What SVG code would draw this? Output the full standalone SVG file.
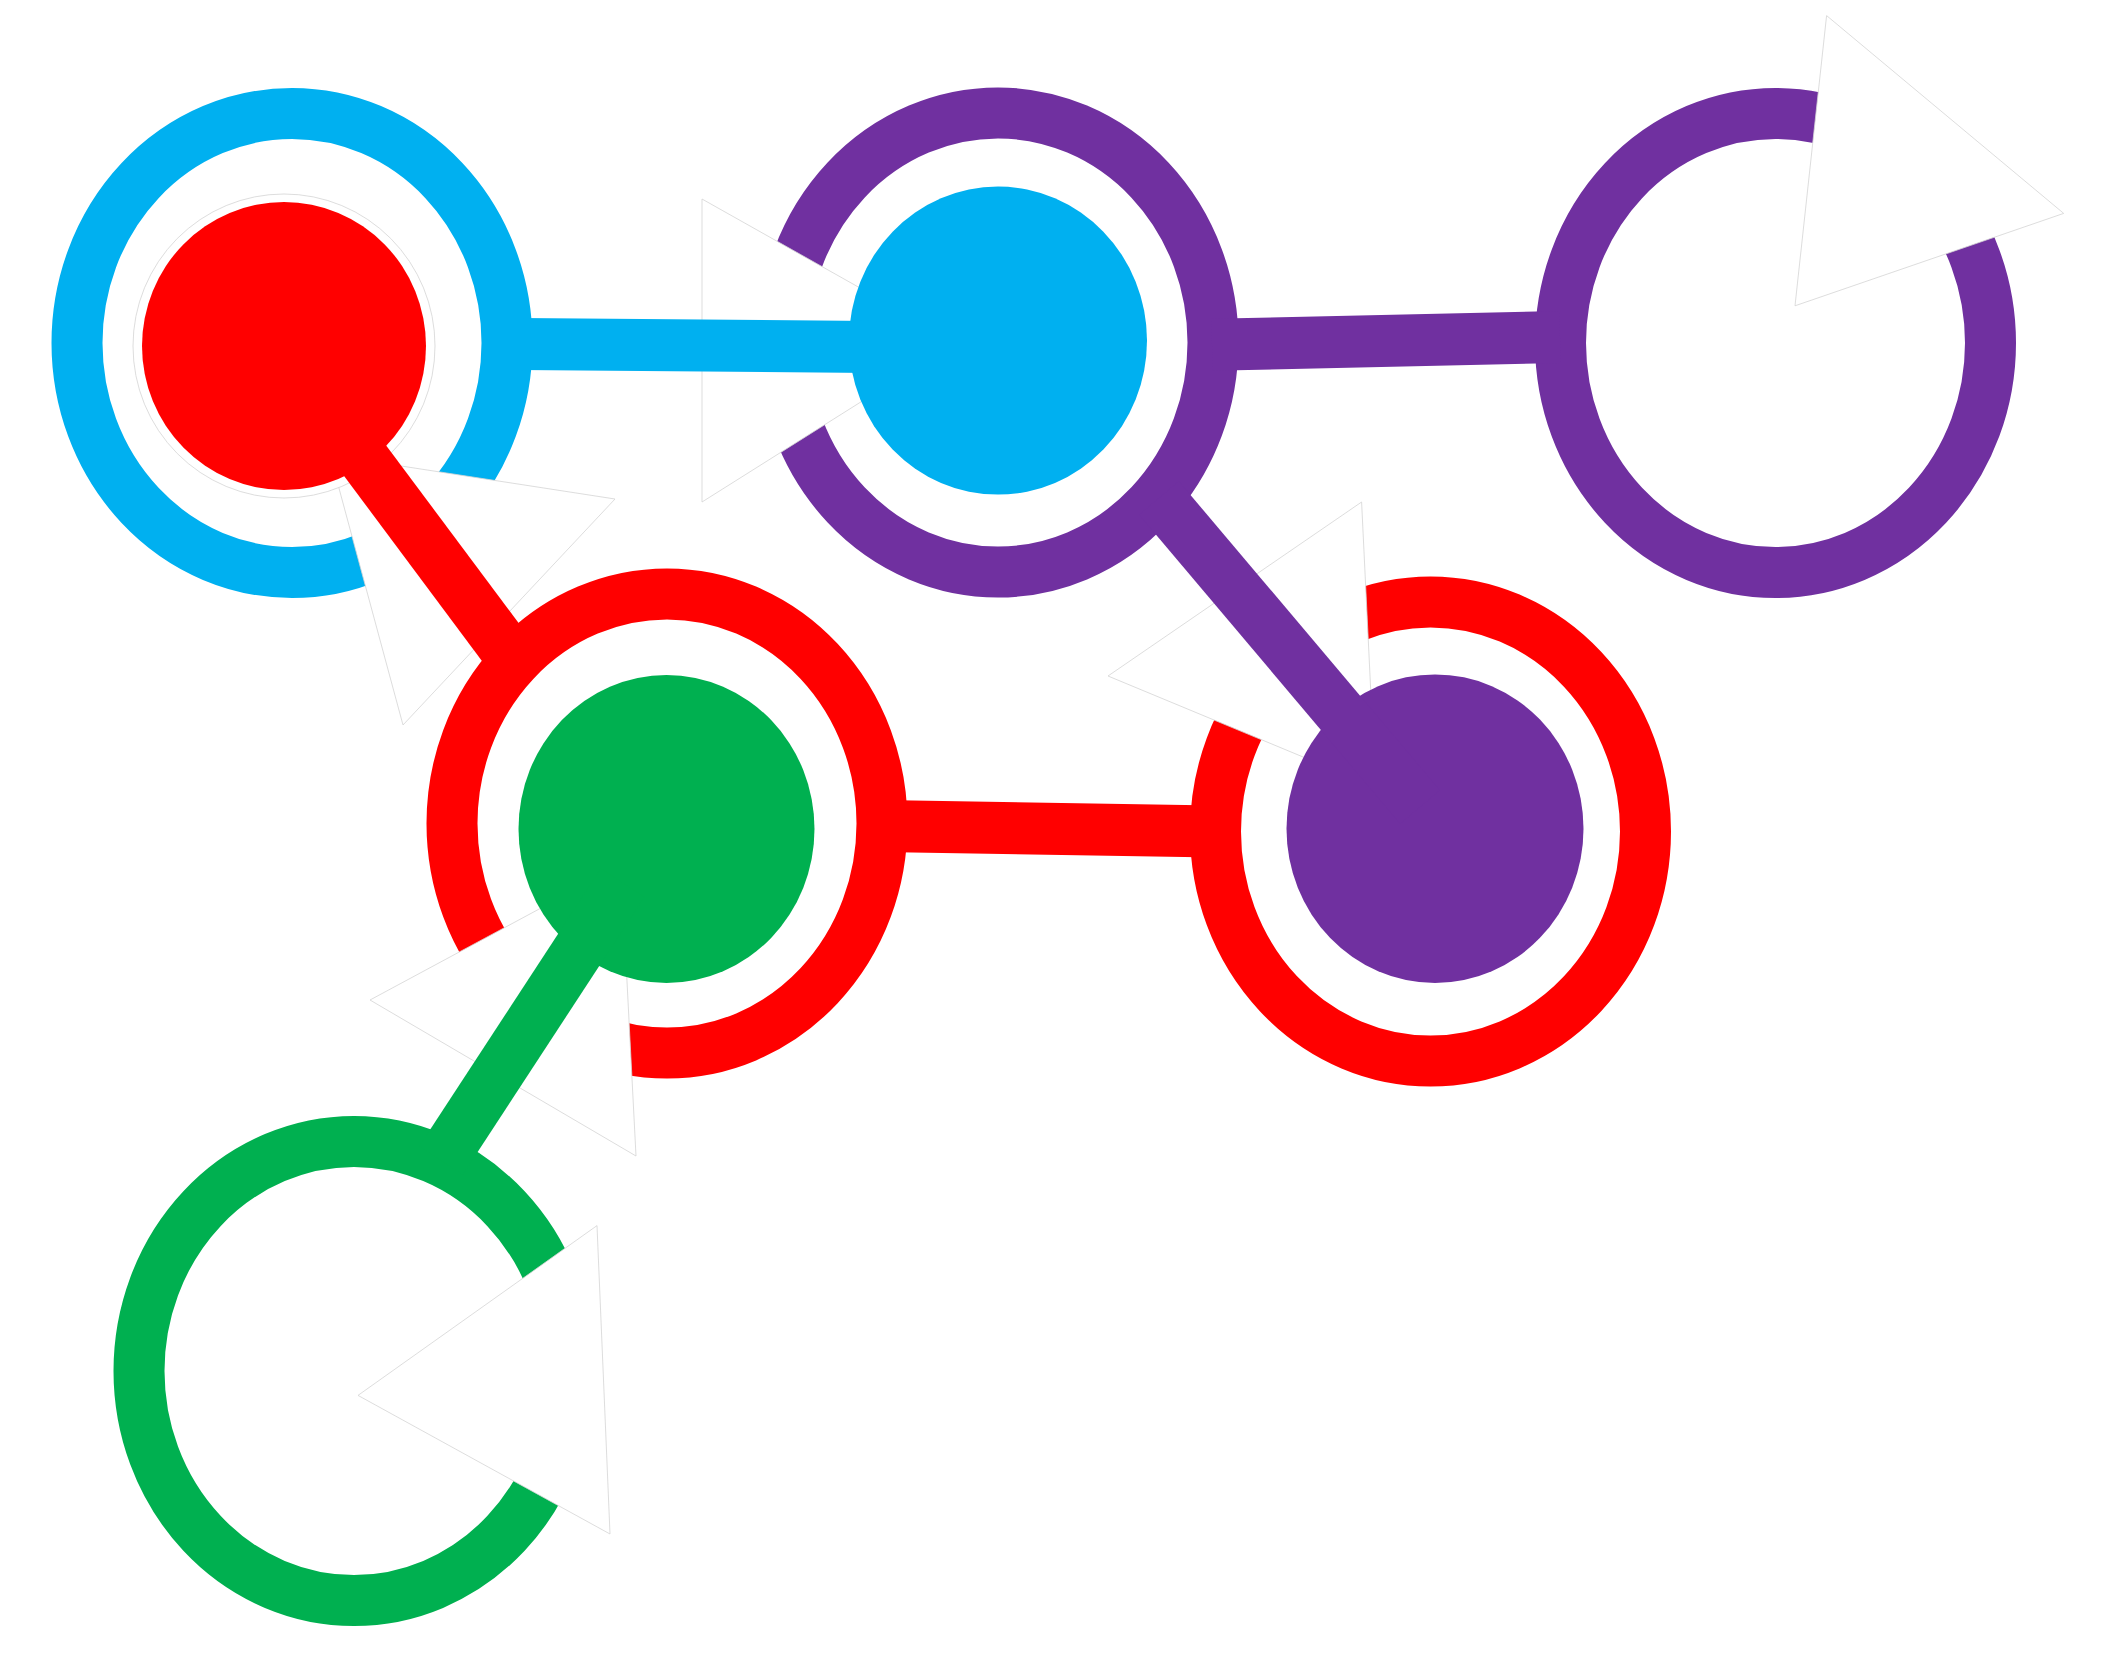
<svg xmlns="http://www.w3.org/2000/svg" width="2108" height="1662" viewBox="0 0 2108 1662">
<style>
.ring{fill:none;stroke-width:51}
.mask{fill:#ffffff;stroke:#d4d4d4;stroke-width:0.8;stroke-linejoin:miter}
.blue{stroke:#00B0F0}.purple{stroke:#7030A0}.red{stroke:#FF0000}.green{stroke:#00B050}
.fblue{fill:#00B0F0}.fpurple{fill:#7030A0}.fred{fill:#FF0000}.fgreen{fill:#00B050}
.link{fill:none;stroke-width:52;stroke-linecap:butt}
</style>
<rect width="2108" height="1662" fill="#ffffff"/>
<g id="node-a">
<ellipse class="ring blue" cx="292" cy="343" rx="215" ry="229.5"/>
<polygon class="mask" points="330,455 615,499 403,725"/>
<ellipse cx="284" cy="346" rx="151" ry="152" fill="#ffffff" stroke="#d4d4d4" stroke-width="0.8"/>
<ellipse class="fred" cx="284" cy="346" rx="142" ry="144"/>
</g>
<g id="node-b">
<ellipse class="ring purple" cx="998" cy="342.5" rx="215" ry="229.5"/>
<polygon class="mask" points="702,199 702,502 956,342"/>
<ellipse class="fblue" cx="998" cy="340.6" rx="149" ry="154"/>
</g>
<g id="node-c">
<ellipse class="ring purple" cx="1775.5" cy="343" rx="215" ry="229.5"/>
<polygon class="mask" points="1826.6,15.6 2063.7,213.4 1795,305.8"/>
</g>
<g id="node-d">
<ellipse class="ring red" cx="667" cy="823.5" rx="215" ry="229.5"/>
<polygon class="mask" points="370,1000 636,1156 621,865"/>
<ellipse class="fgreen" cx="666.5" cy="829" rx="148" ry="154"/>
</g>
<g id="node-e">
<ellipse class="ring red" cx="1430.5" cy="831.5" rx="215" ry="229.5"/>
<polygon class="mask" points="1361.6,502 1108,676 1375.4,787"/>
<ellipse class="fpurple" cx="1435" cy="828.7" rx="148.5" ry="154.3"/>
</g>
<g id="node-f">
<ellipse class="ring green" cx="354" cy="1371" rx="215" ry="229.5"/>
<polygon class="mask" points="597,1225.6 358,1395.4 610,1534"/>
</g>
<g id="connectors">
<line class="link blue" x1="520" y1="344" x2="900" y2="347.2"/>
<line class="link purple" x1="1212" y1="344.8" x2="1560" y2="337"/>
<line class="link red" x1="882" y1="826" x2="1215" y2="831.6"/>
<line class="link red" x1="331" y1="415" x2="516.4" y2="663.6"/>
<line class="link green" x1="622.6" y1="882.8" x2="441" y2="1160.4"/>
<line class="link purple" x1="1159" y1="498" x2="1420" y2="807"/>
</g>
</svg>
